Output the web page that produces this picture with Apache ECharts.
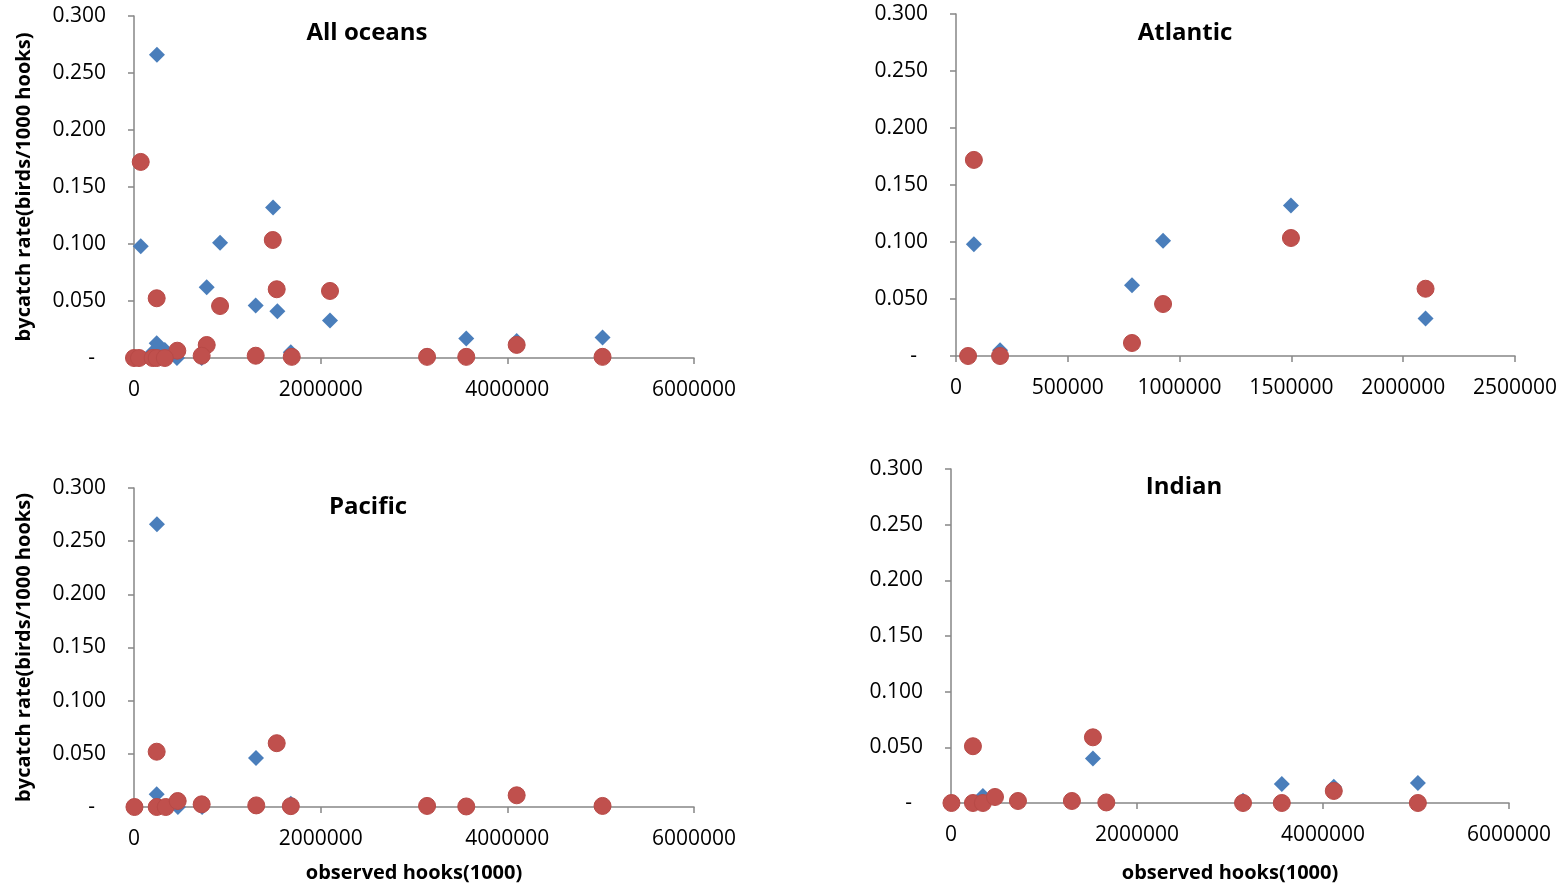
<!DOCTYPE html>
<html>
<head>
<meta charset="utf-8">
<script src="https://cdn.jsdelivr.net/npm/echarts@6/dist/echarts.min.js"></script>
<style>
html,body{margin:0;padding:0;background:#fff;}
#chart{width:1565px;height:889px;}
</style>
</head>
<body>
<div id="chart"></div>
<script>
// ---- Data (x = observed hooks (1000), y = bycatch rate) ----
const panelTitles = ['All oceans', 'Atlantic', 'Pacific', 'Indian'];
const yTicks = [0, 0.05, 0.10, 0.15, 0.20, 0.25, 0.30];
const xMaxWide = 6000000, xIntWide = 2000000;
const xMaxAtl = 2500000, xIntAtl = 500000;

const allBlue = [
  [72000, 0.098], [246000, 0.266], [922000, 0.101], [779000, 0.062],
  [1490000, 0.132], [1304000, 0.046], [1536000, 0.041], [2100000, 0.033],
  [243000, 0.013], [330000, 0.007], [460000, 0.000], [200000, 0.005],
  [725000, 0.000], [1680000, 0.005], [3140000, 0.002], [3560000, 0.017],
  [4100000, 0.015], [5020000, 0.018]
];
const allRed = [
  [72000, 0.172], [243000, 0.0524], [1487000, 0.1035], [1529000, 0.0603],
  [2100000, 0.0588], [922000, 0.0456], [779000, 0.0114], [464000, 0.0064],
  [725000, 0.002], [1304000, 0.002], [1690000, 0.001], [3140000, 0.001],
  [3560000, 0.001], [4100000, 0.0115], [5020000, 0.001],
  [0, 0], [54000, 0], [200000, 0], [243000, 0], [330000, 0]
];

const atlBlue = [
  [80000, 0.098], [197000, 0.005], [787000, 0.062], [926000, 0.101],
  [1498000, 0.132], [2100000, 0.033]
];
const atlRed = [
  [80000, 0.172], [54000, 0], [197000, 0], [787000, 0.0114],
  [926000, 0.0456], [1498000, 0.1035], [2100000, 0.059]
];

const pacBlue = [
  [246000, 0.266], [243000, 0.012], [1307000, 0.046], [470000, 0.0],
  [730000, 0.0], [1680000, 0.003]
];
const pacRed = [
  [5000, 0], [243000, 0.052], [243000, 0], [340000, 0], [468000, 0.0056],
  [725000, 0.0025], [1310000, 0.0015], [1529000, 0.060], [1680000, 0.0008],
  [3140000, 0.001], [3560000, 0.0005], [4100000, 0.011], [5020000, 0.001]
];

const indBlue = [
  [343000, 0.0063], [1526000, 0.040], [3140000, 0.002], [3557000, 0.017],
  [4116000, 0.0145], [5020000, 0.018]
];
const indRed = [
  [5000, 0], [236000, 0.051], [236000, 0], [343000, 0], [473000, 0.0054],
  [720000, 0.0018], [1300000, 0.0018], [1526000, 0.059], [1670000, 0.0005],
  [3140000, 0.0], [3557000, 0.0], [4116000, 0.0108], [5020000, 0.0]
];

const yAxisName = 'bycatch rate(birds/1000 hooks)';
const xAxisName = 'observed hooks(1000)';

// ---- Styling / layout ----
const FONT = '"Open Sans", "Liberation Sans", sans-serif';
const AXIS_COLOR = '#868686';
const BLUE = '#4A7EBB';
const RED = '#C0504D';

const grids = [
  {left: 134, top: 16, width: 560, height: 342},
  {left: 956, top: 14, width: 559, height: 342},
  {left: 134, top: 488, width: 560, height: 319},
  {left: 951, top: 469, width: 558, height: 334}
];

function yAxisCfg(i, withName) {
  return {
    gridIndex: i, type: 'value', min: yTicks[0], max: yTicks[yTicks.length - 1], interval: 0.05,
    axisLine: {show: true, lineStyle: {color: AXIS_COLOR, width: 1.5}},
    axisTick: {show: true, length: 6, lineStyle: {color: AXIS_COLOR, width: 1.5}},
    splitLine: {show: false},
    axisLabel: {
      color: '#000', fontFamily: FONT, fontSize: 21, margin: 28,
      formatter: v => Math.abs(v) < 1e-9 ? '-  ' : v.toFixed(3)
    },
    name: withName ? yAxisName : '',
    nameLocation: 'middle', nameRotate: 90, nameGap: 100,
    nameTextStyle: {color: '#000', fontFamily: FONT, fontSize: 20, fontWeight: 'bold'}
  };
}
function xAxisCfg(i, max, interval, withName, gap) {
  return {
    gridIndex: i, type: 'value', min: 0, max: max, interval: interval,
    axisLine: {show: true, onZero: false, lineStyle: {color: AXIS_COLOR, width: 1.5}},
    axisTick: {show: true, length: 6, lineStyle: {color: AXIS_COLOR, width: 1.5}},
    splitLine: {show: false},
    axisLabel: {color: '#000', fontFamily: FONT, fontSize: 21, margin: 22, formatter: v => String(v)},
    name: withName ? xAxisName : '',
    nameLocation: 'middle', nameGap: gap,
    nameTextStyle: {color: '#000', fontFamily: FONT, fontSize: 20, fontWeight: 'bold'}
  };
}
function blueSeries(i, data) {
  return {type: 'scatter', xAxisIndex: i, yAxisIndex: i, data: data, symbol: 'diamond', symbolSize: 16,
    itemStyle: {color: BLUE, opacity: 1}, z: 2, silent: true};
}
function redSeries(i, data) {
  return {type: 'scatter', xAxisIndex: i, yAxisIndex: i, data: data, symbol: 'circle', symbolSize: 17,
    itemStyle: {color: RED, borderColor: '#B84A47', borderWidth: 1, opacity: 1}, z: 3, silent: true};
}

const titlePos = [[367, 21], [1185, 21], [368, 495], [1184, 475]];

const option = {
  animation: false,
  backgroundColor: '#fff',
  title: panelTitles.map((t, i) => ({
    text: t, left: titlePos[i][0], top: titlePos[i][1], textAlign: 'center', padding: 0,
    textStyle: {fontFamily: FONT, fontSize: 24, fontWeight: 'bold', color: '#000'}
  })),
  grid: grids,
  xAxis: [
    xAxisCfg(0, xMaxWide, xIntWide, false, 0),
    xAxisCfg(1, xMaxAtl, xIntAtl, false, 0),
    xAxisCfg(2, xMaxWide, xIntWide, true, 56),
    xAxisCfg(3, xMaxWide, xIntWide, true, 60)
  ],
  yAxis: [yAxisCfg(0, true), yAxisCfg(1, false), yAxisCfg(2, true), yAxisCfg(3, false)],
  series: [
    blueSeries(0, allBlue), redSeries(0, allRed),
    blueSeries(1, atlBlue), redSeries(1, atlRed),
    blueSeries(2, pacBlue), redSeries(2, pacRed),
    blueSeries(3, indBlue), redSeries(3, indRed)
  ]
};

const chart = echarts.init(document.getElementById('chart'), null, {renderer: 'canvas'});
chart.setOption(option);
</script>
</body>
</html>
